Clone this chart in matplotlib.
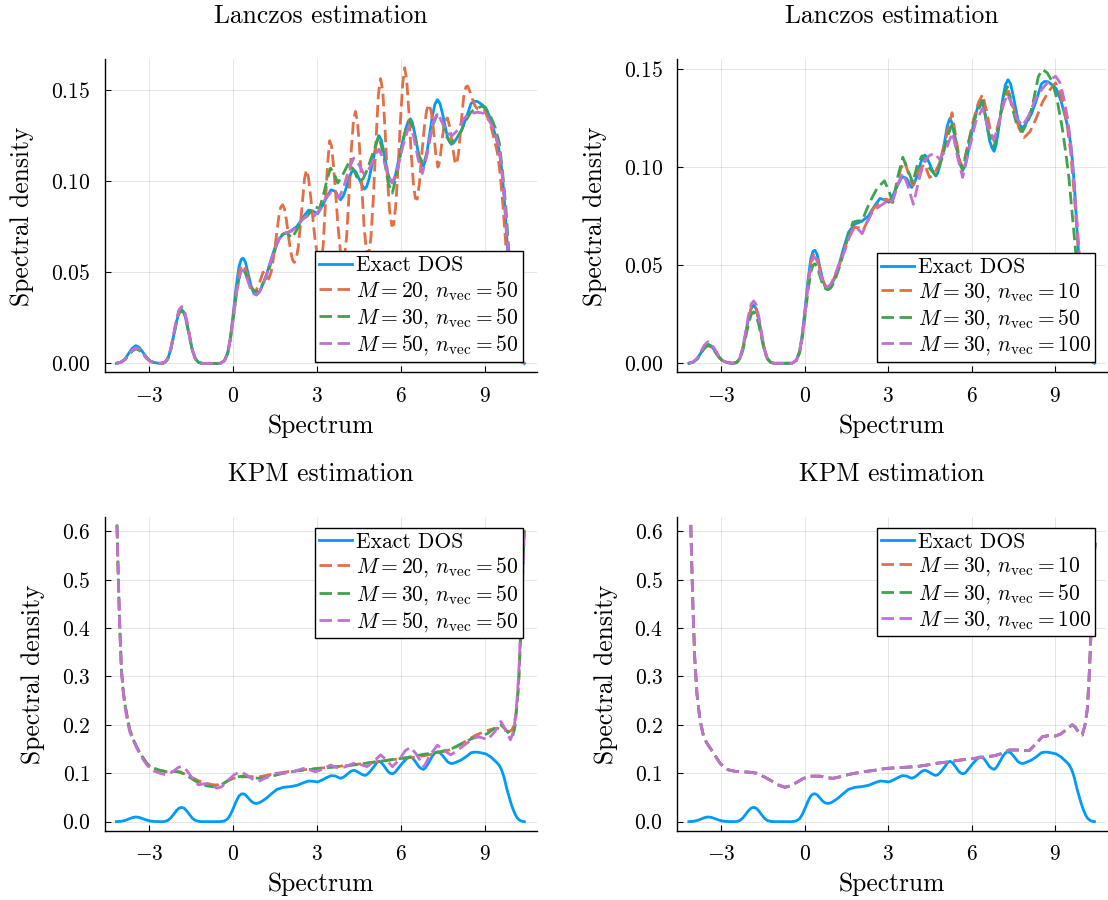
import matplotlib
matplotlib.use("Agg")
import matplotlib.pyplot as plt

plt.rcParams['font.family'] = ['cmr10']
plt.rcParams['mathtext.fontset'] = 'cm'
plt.rcParams['axes.unicode_minus'] = False

# ---------------- data ----------------
# common abscissae for the low-energy part of the Lanczos curves
lanczos_left_x = [-4.16, -4.00, -3.85, -3.72, -3.60, -3.47, -3.35, -3.22, -3.08, -2.95,
                  -2.80, -2.60, -2.45, -2.33, -2.22, -2.12, -2.02, -1.92, -1.83, -1.74,
                  -1.64, -1.54, -1.44, -1.34, -1.22, -1.10, -0.45, -0.30, -0.18, -0.08,
                  0.02, 0.12, 0.22, 0.30, 0.37, 0.45, 0.55, 0.65, 0.75, 0.84,
                  0.95, 1.08]

exact_left_y = [0, 0.0007, 0.0025, 0.0055, 0.0082, 0.0097, 0.0088, 0.0062, 0.0033, 0.0013,
                0.0004, 0, 0.0003, 0.0023, 0.0075, 0.0148, 0.0225, 0.0280, 0.0296, 0.0278,
                0.0218, 0.0140, 0.0068, 0.0025, 0.0005, 0, 0, 0.0015, 0.0060, 0.0150,
                0.0280, 0.0420, 0.0530, 0.0570, 0.0576, 0.0555, 0.0490, 0.0425, 0.0385, 0.0375,
                0.0392, 0.0435]
exact_tail_x = [1.22, 1.40, 1.58, 1.81, 2.05, 2.29, 2.53, 2.71, 2.89, 3.03,
                3.19, 3.37, 3.51, 3.67, 3.76, 3.85, 3.94, 4.03, 4.18, 4.25,
                4.32, 4.39, 4.50, 4.62, 4.71, 4.78, 4.86, 5.04, 5.13, 5.22,
                5.30, 5.38, 5.54, 5.62, 5.70, 5.78, 5.88, 6.06, 6.21, 6.28,
                6.35, 6.42, 6.50, 6.65, 6.73, 6.81, 6.88, 6.95, 7.13, 7.22,
                7.31, 7.40, 7.49, 7.67, 7.74, 7.81, 7.89, 7.97, 8.15, 8.33,
                8.51, 8.62, 8.74, 8.86, 9.04, 9.22, 9.40, 9.50, 9.58, 9.64,
                9.70, 9.75, 9.80, 9.86, 9.92, 9.98, 10.04, 10.10, 10.16, 10.22,
                10.28, 10.34, 10.42]
exact_tail_y = [0.0494, 0.0585, 0.0668, 0.0710, 0.0723, 0.0750, 0.0805, 0.0840, 0.0832, 0.0820,
                0.0860, 0.0915, 0.0951, 0.0942, 0.0915, 0.0896, 0.0915, 0.0951, 0.1025, 0.1050,
                0.1061, 0.1050, 0.1015, 0.0975, 0.0955, 0.0968, 0.1006, 0.1134, 0.1210, 0.1248,
                0.1225, 0.1170, 0.1040, 0.1002, 0.0988, 0.1010, 0.1080, 0.1210, 0.1300, 0.1330,
                0.1340, 0.1318, 0.1260, 0.1134, 0.1100, 0.1080, 0.1110, 0.1170, 0.1354, 0.1420,
                0.1445, 0.1425, 0.1370, 0.1240, 0.1215, 0.1200, 0.1208, 0.1226, 0.1270, 0.1340,
                0.1423, 0.1436, 0.1435, 0.1423, 0.1400, 0.1336, 0.1240, 0.1180, 0.1100, 0.1010,
                0.0900, 0.0780, 0.0660, 0.0540, 0.0420, 0.0310, 0.0220, 0.0140, 0.0080, 0.0045,
                0.0020, 0.0008, 0.0]
exact_x = lanczos_left_x + exact_tail_x
exact_y = exact_left_y + exact_tail_y

# Lanczos, varying M (n_vec = 50)
lz_m20_left_y = [0, 0.0006, 0.0022, 0.0048, 0.0072, 0.0085, 0.0077, 0.0055, 0.0029, 0.0011,
                 0.0003, 0, 0.0003, 0.0024, 0.0078, 0.0154, 0.0235, 0.0293, 0.0310, 0.0292,
                 0.0228, 0.0147, 0.0071, 0.0026, 0.0005, 0, 0, 0.0014, 0.0057, 0.0142,
                 0.0265, 0.0395, 0.0495, 0.0535, 0.0540, 0.0520, 0.0465, 0.0420, 0.0400, 0.0402,
                 0.0440, 0.0500]
lz_m20_tail_x = [1.20, 1.28, 1.37, 1.46, 1.55, 1.64, 1.71, 1.78, 1.85, 1.92,
                 1.99, 2.07, 2.14, 2.20, 2.27, 2.34, 2.41, 2.49, 2.56, 2.63,
                 2.70, 2.77, 2.85, 2.93, 3.03, 3.10, 3.16, 3.23, 3.30, 3.38,
                 3.46, 3.53, 3.60, 3.68, 3.76, 3.84, 3.92, 3.99, 4.07, 4.15,
                 4.23, 4.31, 4.38, 4.45, 4.53, 4.61, 4.69, 4.77, 4.85, 4.93,
                 5.02, 5.11, 5.20, 5.28, 5.36, 5.44, 5.52, 5.60, 5.68, 5.75,
                 5.83, 5.91, 5.99, 6.07, 6.14, 6.21, 6.29, 6.37, 6.45, 6.52,
                 6.59, 6.67, 6.75, 6.84, 6.93, 7.01, 7.09, 7.17, 7.25, 7.33,
                 7.40, 7.49, 7.58, 7.67, 7.76, 7.85, 7.93, 8.00, 8.08, 8.16,
                 8.25, 8.33, 8.39, 8.47, 8.57, 8.66, 8.75, 8.86, 8.98, 9.10,
                 9.22, 9.34, 9.46, 9.56, 9.66, 9.76, 9.86, 9.98, 10.10, 10.22,
                 10.32, 10.42]
lz_m20_tail_y = [0.0480, 0.0462, 0.0500, 0.0585, 0.0690, 0.0800, 0.0855, 0.0869, 0.0845, 0.0780,
                 0.0695, 0.0610, 0.0565, 0.0553, 0.0575, 0.0640, 0.0750, 0.0890, 0.1010, 0.1060,
                 0.1020, 0.0930, 0.0810, 0.0690, 0.0580, 0.0530, 0.0545, 0.0650, 0.0850, 0.1080,
                 0.1220, 0.1190, 0.1080, 0.0920, 0.0750, 0.0620, 0.0560, 0.0580, 0.0700, 0.0920,
                 0.1160, 0.1330, 0.1380, 0.1330, 0.1180, 0.0960, 0.0750, 0.0620, 0.0590, 0.0680,
                 0.0900, 0.1200, 0.1470, 0.1560, 0.1490, 0.1280, 0.1030, 0.0840, 0.0755, 0.0760,
                 0.0880, 0.1090, 0.1330, 0.1530, 0.1620, 0.1560, 0.1380, 0.1160, 0.0990, 0.0905,
                 0.0900, 0.0990, 0.1140, 0.1290, 0.1390, 0.1420, 0.1380, 0.1280, 0.1150, 0.1075,
                 0.1110, 0.1240, 0.1330, 0.1345, 0.1290, 0.1190, 0.1110, 0.1090, 0.1170, 0.1320,
                 0.1460, 0.1515, 0.1520, 0.1490, 0.1445, 0.1410, 0.1394, 0.1395, 0.1390, 0.1350,
                 0.1300, 0.1230, 0.1150, 0.1030, 0.0850, 0.0640, 0.0440, 0.0250, 0.0110, 0.0035,
                 0.0008, 0]
lz_m20_x = lanczos_left_x + lz_m20_tail_x
lz_m20_y = lz_m20_left_y + lz_m20_tail_y

lz_m30_left_y = [0, 0.0006, 0.0020, 0.0045, 0.0067, 0.0079, 0.0072, 0.0051, 0.0027, 0.0011,
                 0.0003, 0, 0.0003, 0.0022, 0.0073, 0.0145, 0.0220, 0.0274, 0.0290, 0.0272,
                 0.0213, 0.0137, 0.0066, 0.0024, 0.0005, 0, 0, 0.0014, 0.0055, 0.0135,
                 0.0250, 0.0370, 0.0465, 0.0505, 0.0512, 0.0495, 0.0450, 0.0415, 0.0397, 0.0393,
                 0.0405, 0.0440]
lz_m30_tail_x = [1.22, 1.40, 1.58, 1.76, 1.93, 2.11, 2.30, 2.48, 2.65, 2.80,
                 2.95, 3.10, 3.25, 3.37, 3.49, 3.62, 3.75, 3.95, 4.14, 4.32,
                 4.50, 4.65, 4.80, 5.00, 5.22, 5.40, 5.55, 5.70, 5.88, 6.06,
                 6.21, 6.35, 6.50, 6.65, 6.81, 6.95, 7.13, 7.31, 7.49, 7.65,
                 7.79, 7.97, 8.15, 8.33, 8.50, 8.62, 8.76, 8.92, 9.06, 9.22,
                 9.38, 9.52, 9.64, 9.76, 9.86, 9.98, 10.10, 10.22, 10.32, 10.42]
lz_m30_tail_y = [0.0480, 0.0570, 0.0655, 0.0705, 0.0717, 0.0686, 0.0735, 0.0790, 0.0805, 0.0835,
                 0.0856, 0.0850, 0.0930, 0.1010, 0.1070, 0.1040, 0.0988, 0.1040, 0.1098, 0.1060,
                 0.0997, 0.1010, 0.1060, 0.1150, 0.1248, 0.1130, 0.0990, 0.0933, 0.1050, 0.1210,
                 0.1300, 0.1335, 0.1250, 0.1140, 0.1090, 0.1160, 0.1300, 0.1363, 0.1320, 0.1240,
                 0.1207, 0.1230, 0.1270, 0.1330, 0.1375, 0.1390, 0.1400, 0.1410, 0.1390, 0.1350,
                 0.1290, 0.1210, 0.1050, 0.0850, 0.0620, 0.0400, 0.0200, 0.0070, 0.0015, 0]
lz_m30_x = lanczos_left_x + lz_m30_tail_x
lz_m30_y = lz_m30_left_y + lz_m30_tail_y

lz_m50_left_y = [0, 0.0006, 0.0022, 0.0048, 0.0072, 0.0085, 0.0077, 0.0055, 0.0029, 0.0011,
                 0.0003, 0, 0.0003, 0.0024, 0.0078, 0.0154, 0.0235, 0.0293, 0.0310, 0.0292,
                 0.0228, 0.0147, 0.0071, 0.0026, 0.0005, 0, 0, 0.0014, 0.0055, 0.0135,
                 0.0250, 0.0370, 0.0465, 0.0505, 0.0512, 0.0495, 0.0445, 0.0400, 0.0380, 0.0375,
                 0.0390, 0.0430]
lz_m50_tail_x = [1.22, 1.40, 1.58, 1.70, 1.90, 2.10, 2.30, 2.50, 2.65, 2.89,
                 3.10, 3.30, 3.49, 3.61, 3.79, 3.95, 4.14, 4.32, 4.50, 4.68,
                 4.85, 5.04, 5.22, 5.40, 5.55, 5.70, 5.88, 6.06, 6.29, 6.45,
                 6.62, 6.77, 6.95, 7.13, 7.31, 7.49, 7.67, 7.85, 8.05, 8.25,
                 8.39, 8.55, 8.75, 8.98, 9.16, 9.34, 9.50, 9.60, 9.72, 9.82,
                 9.94, 10.06, 10.18, 10.30, 10.42]
lz_m50_tail_y = [0.0490, 0.0580, 0.0660, 0.0695, 0.0715, 0.0725, 0.0750, 0.0790, 0.0810, 0.0805,
                 0.0840, 0.0900, 0.0935, 0.0940, 0.0906, 0.0960, 0.1060, 0.1125, 0.1090, 0.1040,
                 0.1060, 0.1120, 0.1174, 0.1110, 0.1030, 0.0990, 0.1060, 0.1180, 0.1300, 0.1250,
                 0.1120, 0.1040, 0.1150, 0.1310, 0.1370, 0.1320, 0.1260, 0.1250, 0.1280, 0.1340,
                 0.1360, 0.1370, 0.1376, 0.1370, 0.1330, 0.1280, 0.1190, 0.1090, 0.0880, 0.0650,
                 0.0410, 0.0200, 0.0065, 0.0012, 0]
lz_m50_x = lanczos_left_x + lz_m50_tail_x
lz_m50_y = lz_m50_left_y + lz_m50_tail_y

# Lanczos, varying n_vec (M = 30)
lz_v10_left_y = [0, 0.0006, 0.0023, 0.0051, 0.0076, 0.0090, 0.0082, 0.0058, 0.0031, 0.0012,
                 0.0004, 0, 0.0003, 0.0023, 0.0075, 0.0148, 0.0225, 0.0280, 0.0296, 0.0278,
                 0.0218, 0.0140, 0.0068, 0.0025, 0.0005, 0, 0, 0.0015, 0.0058, 0.0145,
                 0.0270, 0.0405, 0.0510, 0.0550, 0.0558, 0.0540, 0.0480, 0.0425, 0.0395, 0.0389,
                 0.0400, 0.0440]
lz_v10_tail_x = [1.25, 1.45, 1.62, 1.80, 1.95, 2.10, 2.28, 2.46, 2.70, 2.93,
                 3.15, 3.30, 3.45, 3.59, 3.75, 3.89, 4.10, 4.31, 4.49, 4.65,
                 4.85, 5.05, 5.30, 5.45, 5.58, 5.68, 5.85, 6.05, 6.25, 6.40,
                 6.55, 6.70, 6.81, 7.00, 7.17, 7.33, 7.50, 7.70, 7.89, 8.10,
                 8.31, 8.55, 8.78, 9.02, 9.18, 9.32, 9.45, 9.56, 9.68, 9.80,
                 9.92, 10.04, 10.16, 10.28, 10.42]
lz_v10_tail_y = [0.0500, 0.0590, 0.0660, 0.0693, 0.0690, 0.0676, 0.0730, 0.0786, 0.0820, 0.0837,
                 0.0820, 0.0900, 0.0990, 0.1030, 0.0960, 0.0905, 0.0980, 0.1015, 0.0947, 0.0960,
                 0.1020, 0.1130, 0.1277, 0.1140, 0.1030, 0.0998, 0.1100, 0.1230, 0.1330, 0.1370,
                 0.1280, 0.1170, 0.1133, 0.1240, 0.1340, 0.1387, 0.1310, 0.1200, 0.1150, 0.1180,
                 0.1243, 0.1330, 0.1387, 0.1429, 0.1380, 0.1300, 0.1200, 0.1080, 0.0880, 0.0660,
                 0.0430, 0.0220, 0.0080, 0.0018, 0]
lz_v10_x = lanczos_left_x + lz_v10_tail_x
lz_v10_y = lz_v10_left_y + lz_v10_tail_y

lz_v50_left_y = [0, 0.0006, 0.0024, 0.0053, 0.0079, 0.0093, 0.0085, 0.0060, 0.0032, 0.0012,
                 0.0004, 0, 0.0003, 0.0020, 0.0066, 0.0131, 0.0199, 0.0248, 0.0262, 0.0246,
                 0.0193, 0.0124, 0.0060, 0.0022, 0.0004, 0, 0, 0.0013, 0.0052, 0.0130,
                 0.0245, 0.0365, 0.0462, 0.0500, 0.0507, 0.0492, 0.0445, 0.0400, 0.0380, 0.0375,
                 0.0385, 0.0420]
lz_v50_tail_x = [1.30, 1.50, 1.74, 1.90, 2.07, 2.25, 2.40, 2.60, 2.87, 3.05,
                 3.17, 3.35, 3.53, 3.70, 3.89, 4.05, 4.22, 4.45, 4.73, 4.95,
                 5.15, 5.32, 5.50, 5.68, 5.90, 6.16, 6.40, 6.60, 6.81, 7.00,
                 7.15, 7.29, 7.45, 7.62, 7.83, 8.05, 8.20, 8.40, 8.55, 8.72,
                 8.90, 9.08, 9.26, 9.40, 9.50, 9.62, 9.74, 9.86, 9.98, 10.10,
                 10.22, 10.42]
lz_v50_tail_y = [0.0510, 0.0620, 0.0719, 0.0725, 0.0727, 0.0790, 0.0837, 0.0890, 0.0930, 0.0870,
                 0.0820, 0.0950, 0.1050, 0.0990, 0.0920, 0.1010, 0.1057, 0.1000, 0.0955, 0.1050,
                 0.1160, 0.1226, 0.1070, 0.0980, 0.1130, 0.1268, 0.1336, 0.1180, 0.1100, 0.1230,
                 0.1360, 0.1410, 0.1310, 0.1220, 0.1180, 0.1240, 0.1320, 0.1460, 0.1497, 0.1480,
                 0.1437, 0.1340, 0.1200, 0.1060, 0.0947, 0.0760, 0.0575, 0.0370, 0.0200, 0.0080,
                 0.0020, 0]
lz_v50_x = lanczos_left_x + lz_v50_tail_x
lz_v50_y = lz_v50_left_y + lz_v50_tail_y

lz_v100_left_y = [0, 0.0008, 0.0028, 0.0062, 0.0093, 0.0110, 0.0100, 0.0070, 0.0037, 0.0015,
                  0.0005, 0, 0.0003, 0.0025, 0.0080, 0.0159, 0.0242, 0.0301, 0.0318, 0.0299,
                  0.0234, 0.0150, 0.0073, 0.0027, 0.0005, 0, 0, 0.0014, 0.0057, 0.0142,
                  0.0262, 0.0392, 0.0495, 0.0535, 0.0540, 0.0520, 0.0465, 0.0415, 0.0392, 0.0389,
                  0.0405, 0.0445]
lz_v100_tail_x = [1.25, 1.45, 1.60, 1.80, 1.95, 2.07, 2.25, 2.46, 2.70, 2.90,
                  3.05, 3.20, 3.37, 3.53, 3.70, 3.91, 4.10, 4.30, 4.50, 4.67,
                  4.85, 5.05, 5.32, 5.50, 5.68, 5.90, 6.15, 6.40, 6.60, 6.81,
                  7.00, 7.15, 7.29, 7.45, 7.62, 7.83, 8.05, 8.31, 8.55, 8.80,
                  9.02, 9.18, 9.32, 9.45, 9.56, 9.68, 9.80, 9.92, 10.04, 10.16,
                  10.28, 10.42]
lz_v100_tail_y = [0.0510, 0.0575, 0.0640, 0.0693, 0.0680, 0.0660, 0.0720, 0.0777, 0.0800, 0.0820,
                  0.0810, 0.0840, 0.0920, 0.0970, 0.0910, 0.0810, 0.0930, 0.1030, 0.1060, 0.1070,
                  0.1040, 0.1080, 0.1175, 0.1050, 0.0947, 0.1080, 0.1230, 0.1300, 0.1200, 0.1140,
                  0.1230, 0.1320, 0.1370, 0.1320, 0.1250, 0.1210, 0.1260, 0.1350, 0.1400, 0.1440,
                  0.1463, 0.1430, 0.1350, 0.1250, 0.1130, 0.0920, 0.0710, 0.0470, 0.0250, 0.0090,
                  0.0020, 0]
lz_v100_x = lanczos_left_x + lz_v100_tail_x
lz_v100_y = lz_v100_left_y + lz_v100_tail_y

# KPM, varying M (n_vec = 50)
kpm_m20_x = [-4.14, -4.10, -4.06, -4.02, -3.98, -3.92, -3.86, -3.76, -3.68, -3.56, -3.44, -3.32, -3.20, -3.08,
             -2.96, -2.80, -2.67, -2.37, -2.10, -1.89, -1.70, -1.53, -1.35, -1.17, -0.95, -0.69, -0.50, -0.34,
             -0.15, 0.02, 0.25, 0.50, 0.75, 0.98, 1.40, 1.93, 2.50, 3.01, 3.60, 4.20, 4.80, 5.40, 6.00, 6.59,
             7.20, 7.79, 8.10, 8.39, 8.70, 8.98, 9.25, 9.46, 9.70, 9.88, 9.98, 10.06, 10.12, 10.18, 10.23, 10.27,
             10.32, 10.36, 10.42]
kpm_m20_y = [0.611, 0.520, 0.437, 0.370, 0.313, 0.272, 0.244, 0.212, 0.189, 0.170, 0.155, 0.142, 0.131, 0.121,
             0.114, 0.110, 0.107, 0.103, 0.104, 0.103, 0.098, 0.093, 0.088, 0.083, 0.079, 0.076, 0.076, 0.079,
             0.085, 0.0895, 0.092, 0.093, 0.093, 0.093, 0.098, 0.103, 0.107, 0.110, 0.113, 0.117, 0.121, 0.126,
             0.130, 0.134, 0.140, 0.149, 0.158, 0.169, 0.179, 0.186, 0.191, 0.193, 0.189, 0.186, 0.190, 0.203,
             0.225, 0.258, 0.305, 0.368, 0.455, 0.541, 0.603]

kpm_m30_x = [-4.14, -4.10, -4.06, -4.02, -3.98, -3.92, -3.86, -3.76, -3.68, -3.56, -3.44, -3.32, -3.20, -3.08,
             -2.96, -2.67, -2.37, -2.10, -1.89, -1.65, -1.40, -1.17, -0.95, -0.69, -0.50, -0.30, -0.10, 0.10,
             0.35, 0.60, 0.85, 1.10, 1.40, 1.80, 2.30, 2.80, 3.30, 3.80, 4.30, 4.80, 5.30, 5.80, 6.30, 6.80,
             7.30, 7.80, 8.20, 8.60, 8.86, 9.10, 9.40, 9.58, 9.75, 9.90, 10.00, 10.08, 10.14, 10.20, 10.25, 10.30,
             10.36, 10.42]
kpm_m30_y = [0.614, 0.520, 0.437, 0.370, 0.313, 0.272, 0.244, 0.212, 0.189, 0.170, 0.155, 0.142, 0.131, 0.121,
             0.114, 0.107, 0.103, 0.104, 0.102, 0.096, 0.086, 0.079, 0.074, 0.072, 0.074, 0.080, 0.088, 0.092,
             0.094, 0.092, 0.090, 0.0895, 0.094, 0.100, 0.105, 0.108, 0.111, 0.114, 0.117, 0.121, 0.125, 0.129,
             0.133, 0.139, 0.143, 0.150, 0.162, 0.173, 0.176, 0.182, 0.195, 0.200, 0.190, 0.180, 0.176, 0.195,
             0.230, 0.275, 0.330, 0.410, 0.520, 0.600]

kpm_m50_x = [-4.14, -4.10, -4.06, -4.02, -3.98, -3.92, -3.86, -3.76, -3.68, -3.56, -3.44, -3.32, -3.20, -3.08,
             -2.96, -2.80, -2.60, -2.37, -2.15, -1.95, -1.83, -1.65, -1.45, -1.23, -1.05, -0.85, -0.57, -0.40,
             -0.20, 0.05, 0.26, 0.45, 0.70, 0.92, 1.15, 1.46, 1.80, 2.10, 2.30, 2.53, 2.75, 2.95, 3.20, 3.49,
             3.70, 3.85, 4.10, 4.32, 4.55, 4.80, 5.05, 5.28, 5.50, 5.70, 5.95, 6.15, 6.35, 6.55, 6.83, 7.05,
             7.31, 7.55, 7.79, 8.00, 8.27, 8.50, 8.74, 8.92, 9.10, 9.35, 9.58, 9.75, 9.92, 10.02, 10.10, 10.18,
             10.24, 10.30, 10.36, 10.42]
kpm_m50_y = [0.611, 0.520, 0.437, 0.370, 0.313, 0.270, 0.240, 0.205, 0.185, 0.168, 0.153, 0.139, 0.128, 0.118,
             0.110, 0.104, 0.100, 0.0964, 0.103, 0.112, 0.114, 0.106, 0.090, 0.076, 0.078, 0.079, 0.069, 0.072,
             0.084, 0.097, 0.103, 0.098, 0.088, 0.083, 0.090, 0.100, 0.100, 0.102, 0.106, 0.110, 0.107, 0.103,
             0.108, 0.117, 0.112, 0.110, 0.115, 0.1205, 0.118, 0.1136, 0.125, 0.138, 0.127, 0.1136, 0.128,
             0.146, 0.1536, 0.140, 0.1136, 0.138, 0.158, 0.147, 0.138, 0.146, 0.158, 0.168, 0.176, 0.173, 0.169,
             0.185, 0.207, 0.190, 0.169, 0.185, 0.215, 0.270, 0.334, 0.420, 0.506, 0.606]

# KPM, varying n_vec (M = 30) - the three estimates coincide visually
kpm_v_x = [-4.09, -4.05, -4.01, -3.95, -3.87, -3.76, -3.63, -3.51, -3.39, -3.20, -3.04, -2.90, -2.74, -2.50,
           -2.20, -1.95, -1.72, -1.50, -1.24, -0.95, -0.71, -0.50, -0.29, -0.05, 0.19, 0.55, 0.80, 1.02, 1.30,
           1.62, 2.10, 2.50, 2.93, 3.50, 4.01, 4.40, 4.73, 5.10, 5.56, 6.00, 6.52, 6.80, 7.11, 7.35, 7.71, 7.95,
           8.07, 8.30, 8.55, 8.80, 9.02, 9.20, 9.32, 9.50, 9.62, 9.72, 9.80, 9.92, 9.98, 10.08, 10.16, 10.22,
           10.28, 10.32, 10.36, 10.42, 10.46]
kpm_v10_y = [0.613, 0.520, 0.437, 0.340, 0.265, 0.210, 0.176, 0.162, 0.152, 0.135, 0.121, 0.112, 0.107, 0.104,
             0.103, 0.102, 0.100, 0.094, 0.086, 0.076, 0.071, 0.074, 0.081, 0.089, 0.094, 0.094, 0.091, 0.0895,
             0.093, 0.098, 0.103, 0.106, 0.110, 0.112, 0.1136, 0.117, 0.1205, 0.123, 0.127, 0.130, 0.134, 0.136,
             0.141, 0.148, 0.148, 0.147, 0.1467, 0.160, 0.1756, 0.178, 0.177, 0.181, 0.186, 0.195, 0.200, 0.196,
             0.189, 0.180, 0.179, 0.200, 0.231, 0.290, 0.368, 0.430, 0.506, 0.560, 0.582]
kpm_v50_y = kpm_v10_y
kpm_v100_y = kpm_v10_y

legend_m = [r'$M = 20$, $n_{\mathrm{vec}} = 50$', r'$M = 30$, $n_{\mathrm{vec}} = 50$',
            r'$M = 50$, $n_{\mathrm{vec}} = 50$']
legend_v = [r'$M = 30$, $n_{\mathrm{vec}} = 10$', r'$M = 30$, $n_{\mathrm{vec}} = 50$',
            r'$M = 30$, $n_{\mathrm{vec}} = 100$']
xticks = [-3, 0, 3, 6, 9]
yticks_top = [0.0, 0.05, 0.10, 0.15]
yticks_top_lbl = ['0.00', '0.05', '0.10', '0.15']
yticks_bot = [0.0, 0.1, 0.2, 0.3, 0.4, 0.5, 0.6]
yticks_bot_lbl = ['0.0', '0.1', '0.2', '0.3', '0.4', '0.5', '0.6']

# ---------------- style ----------------
C_BLUE, C_ORANGE, C_GREEN, C_PURPLE = '#009AFA', '#E26F46', '#3DA44D', '#C271D2'
LW = 2.0
DASH = (4.5, 2.0)
TICK_FS = 15.5
LABEL_FS = 18.4

fig = plt.figure(figsize=(11.08, 9.0), dpi=100)
W, H = 1108.0, 900.0


def make_ax(l, r, t, b):
    return fig.add_axes([l / W, 1 - b / H, (r - l) / W, (b - t) / H])


ax_tl = make_ax(104.5, 537.0, 59.5, 372.3)
ax_tr = make_ax(677.0, 1107.0, 59.5, 372.3)
ax_bl = make_ax(104.5, 537.0, 516.7, 831.0)
ax_br = make_ax(677.0, 1107.0, 516.7, 831.0)


def style(ax, title, ylim, yt, ytl):
    ax.set_xlim(-4.586, 10.87)
    ax.set_ylim(*ylim)
    ax.set_xticks(xticks)
    ax.set_xticklabels([r'$%d$' % v if v >= 0 else r'$-%d$' % (-v) for v in xticks])
    ax.set_yticks(yt)
    ax.set_yticklabels([r'$%s$' % s for s in ytl])
    for s in ['top', 'right']:
        ax.spines[s].set_visible(False)
    for s in ['left', 'bottom']:
        ax.spines[s].set_linewidth(1.0)
        ax.spines[s].set_color('black')
    ax.tick_params(direction='in', length=4, width=0.8, labelsize=TICK_FS, pad=10)
    ax.grid(True, color='black', alpha=0.1, linewidth=0.7)
    ax.set_axisbelow(True)
    ax.set_title(title, fontsize=LABEL_FS, pad=26)
    ax.set_xlabel('Spectrum', fontsize=LABEL_FS, labelpad=6)
    ax.set_ylabel('Spectral density', fontsize=LABEL_FS, labelpad=12)


def add_lines(ax, series, labels):
    ax.plot(exact_x, exact_y, color=C_BLUE, lw=LW, label='Exact DOS')
    for (xs, ys), col, lab in zip(series, [C_ORANGE, C_GREEN, C_PURPLE], labels):
        ax.plot(xs, ys, color=col, lw=LW, ls=(0, DASH), label=lab)


def add_legend(ax, loc, anchor):
    leg = ax.legend(loc=loc, bbox_to_anchor=anchor, fontsize=TICK_FS, frameon=True, fancybox=False,
                    framealpha=1.0, edgecolor='black', handlelength=1.5, handletextpad=0.2,
                    labelspacing=0.17, borderpad=0.2, borderaxespad=0.0)
    leg.get_frame().set_linewidth(1.0)


add_lines(ax_tl, [(lz_m20_x, lz_m20_y), (lz_m30_x, lz_m30_y), (lz_m50_x, lz_m50_y)], legend_m)
style(ax_tl, 'Lanczos estimation', (-0.0049, 0.1665), yticks_top, yticks_top_lbl)
add_legend(ax_tl, 'lower right', (0.967, 0.034))

add_lines(ax_tr, [(lz_v10_x, lz_v10_y), (lz_v50_x, lz_v50_y), (lz_v100_x, lz_v100_y)], legend_v)
style(ax_tr, 'Lanczos estimation', (-0.0046, 0.1548), yticks_top, yticks_top_lbl)
add_legend(ax_tr, 'lower right', (0.973, 0.034))

add_lines(ax_bl, [(kpm_m20_x, kpm_m20_y), (kpm_m30_x, kpm_m30_y), (kpm_m50_x, kpm_m50_y)], legend_m)
style(ax_bl, 'KPM estimation', (-0.0193, 0.630), yticks_bot, yticks_bot_lbl)
add_legend(ax_bl, 'upper right', (0.967, 0.964))

add_lines(ax_br, [(kpm_v_x, kpm_v10_y), (kpm_v_x, kpm_v50_y), (kpm_v_x, kpm_v100_y)], legend_v)
style(ax_br, 'KPM estimation', (-0.0193, 0.630), yticks_bot, yticks_bot_lbl)
add_legend(ax_br, 'upper right', (0.973, 0.964))

fig.savefig('out.png', dpi=100)
